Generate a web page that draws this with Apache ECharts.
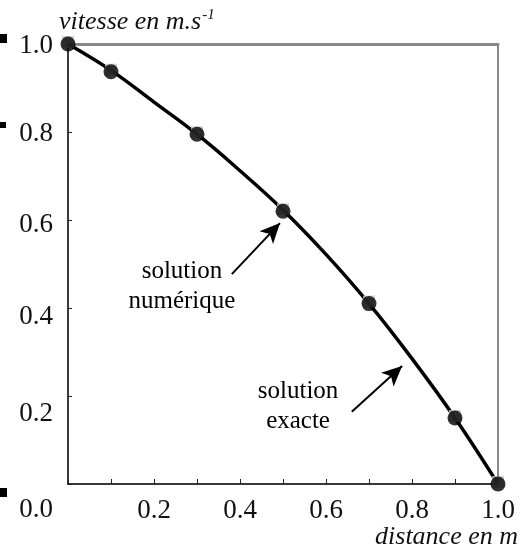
<!DOCTYPE html>
<html>
<head>
<meta charset="utf-8">
<script src="https://cdn.jsdelivr.net/npm/echarts@6/dist/echarts.min.js"></script>
<style>html,body{margin:0;padding:0;background:#fff;}#c{width:528px;height:550px;}</style>
</head>
<body>
<div id="c"></div>
<script>
// numerical solution points
const xNum = [0, 0.1, 0.3, 0.5, 0.7, 0.9, 1.0];
const vNum = [1.0, 0.937, 0.795, 0.62, 0.41, 0.15, 0.0];
// exact solution curve
const xExact = [0, 0.1, 0.2, 0.3, 0.4, 0.5, 0.6, 0.7, 0.8, 0.9, 1.0];
const vExact = [1.0, 0.94, 0.868, 0.795, 0.712, 0.623, 0.522, 0.41, 0.285, 0.15, 0.0];
// tick labels
const xTicks = [0.2, 0.4, 0.6, 0.8, 1.0];
const yTicks = [0.0, 0.2, 0.4, 0.6, 0.8, 1.0];
// annotations
const annoTexts = ['solution\nnumérique', 'solution\nexacte'];
const annoPos = [[0.265, 0.448], [0.535, 0.177]];
const arrowFrom = [[0.381, 0.477], [0.66, 0.164]];
const arrowTo = [[0.493, 0.593], [0.777, 0.268]];

const serif = '"Liberation Serif", "DejaVu Serif", serif';
const yShift = {'0.0': 52, '0.2': 36, '0.4': 18, '0.6': 10, '0.8': 4, '1.0': 4};
const rich = {};
yTicks.forEach(v => {
  const k = v.toFixed(1);
  rich['y' + k.replace('.', '')] = {fontFamily: serif, fontSize: 27, color: '#111', padding: [yShift[k], 0, 0, 0]};
});

const chart = echarts.init(document.getElementById('c'));
chart.setOption({
  animation: false,
  backgroundColor: '#fff',
  grid: {left: 68, right: 30, top: 44, bottom: 66},
  xAxis: [{
    type: 'value', min: 0, max: 1, interval: 0.2,
    position: 'bottom',
    name: 'distance en m', nameLocation: 'end', nameGap: 20,
    nameTextStyle: {fontFamily: serif, fontStyle: 'italic', fontSize: 26, color: '#111', align: 'right', verticalAlign: 'top', padding: [40, 0, 0, 0]},
    axisLine: {show: true, lineStyle: {color: '#3a3a3a', width: 2}},
    axisTick: {show: true, inside: true, length: 5, lineStyle: {color: '#222', width: 1}},
    minorTick: {show: true, splitNumber: 2, length: 5, lineStyle: {color: '#222', width: 1}},
    splitLine: {show: false},
    axisLabel: {showMinLabel: false, margin: 13, fontFamily: serif, fontSize: 27, color: '#111',
      formatter: v => xTicks.some(t => Math.abs(t - v) < 1e-9) ? v.toFixed(1) : ''}
  }, {
    type: 'value', min: 0, max: 1, position: 'top',
    axisLine: {show: true, onZero: false, lineStyle: {color: '#888', width: 3}},
    axisTick: {show: false}, axisLabel: {show: false}, splitLine: {show: false}
  }],
  yAxis: [{
    type: 'value', min: 0, max: 1, interval: 0.2,
    position: 'left',
    name: '{a|vitesse en m.s}{b|-1}', nameLocation: 'end', nameGap: 8,
    nameTextStyle: {align: 'left', padding: [0, 0, 0, -9],
      rich: {
        a: {fontFamily: serif, fontStyle: 'italic', fontSize: 26, color: '#111'},
        b: {fontFamily: serif, fontStyle: 'italic', fontSize: 15, color: '#111', verticalAlign: 'top', padding: [0, 0, 13, 1]}
      }},
    axisLine: {show: true, lineStyle: {color: '#3a3a3a', width: 2}},
    axisTick: {show: true, inside: true, length: 4, lineStyle: {color: '#222', width: 1}},
    splitLine: {show: false},
    axisLabel: {margin: 15, rich: rich,
      formatter: v => { const k = v.toFixed(1); return '{y' + k.replace('.', '') + '|' + k + '}'; }}
  }, {
    type: 'value', min: 0, max: 1, position: 'right',
    axisLine: {show: true, onZero: false, lineStyle: {color: '#888', width: 2}},
    axisTick: {show: false}, axisLabel: {show: false}, splitLine: {show: false}
  }],
  series: [{
    type: 'line',
    data: xExact.map((x, i) => [x, vExact[i]]),
    smooth: 0.4,
    symbol: 'none',
    lineStyle: {color: '#000', width: 3.5},
    z: 3,
    markLine: {
      silent: true,
      symbol: ['none', 'arrow'],
      symbolSize: [14, 20],
      label: {show: false},
      lineStyle: {color: '#000', width: 2, type: 'solid'},
      data: arrowFrom.map((f, i) => [{coord: f}, {coord: arrowTo[i]}])
    },
    markPoint: {
      silent: true,
      symbol: 'circle', symbolSize: 1,
      itemStyle: {color: 'rgba(0,0,0,0)'},
      label: {show: true, position: 'inside', fontFamily: serif, fontSize: 25, lineHeight: 30, color: '#000', align: 'center',
        formatter: p => p.name},
      data: annoTexts.map((t, i) => ({name: t, coord: annoPos[i]}))
    }
  }, {
    type: 'scatter',
    data: xNum.map((x, i) => [x, vNum[i]]),
    symbol: 'rect', symbolSize: 12, symbolOffset: [0, -2],
    itemStyle: {color: '#c8c8c8'},
    z: 4
  }, {
    type: 'scatter',
    data: xNum.map((x, i) => [x, vNum[i]]),
    symbol: 'circle', symbolSize: 15,
    itemStyle: {color: '#000'},
    z: 5
  }],
  graphic: [
    {type: 'rect', shape: {x: 0, y: 34, width: 7, height: 9}, style: {fill: '#000'}},
    {type: 'rect', shape: {x: 0, y: 122, width: 6, height: 6}, style: {fill: '#000'}},
    {type: 'rect', shape: {x: 0, y: 488, width: 7, height: 9}, style: {fill: '#000'}}
  ]
});
</script>
</body>
</html>
